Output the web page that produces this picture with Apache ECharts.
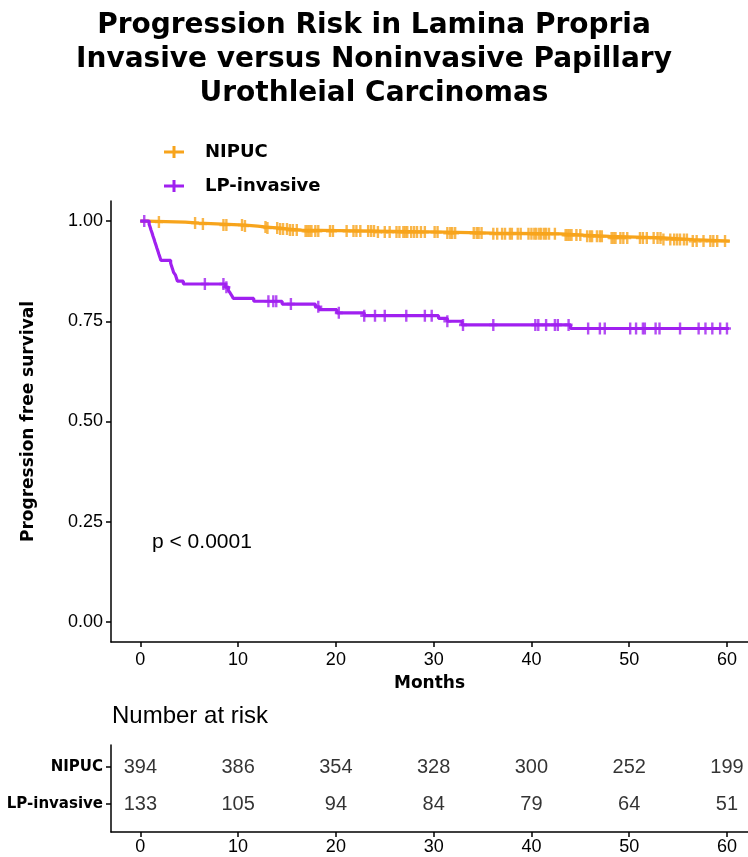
<!DOCTYPE html>
<html>
<head>
<meta charset="utf-8">
<script src="https://cdn.jsdelivr.net/npm/echarts@6/dist/echarts.min.js"></script>
<style>
html,body{margin:0;padding:0;background:#fff;}
#chart{width:748px;height:857px;}
</style>
</head>
<body>
<div id="chart"></div>
<script>
// ---------- data ----------
const groups = ['NIPUC', 'LP-invasive'];
const groupColors = ['#F7A41C', '#A020F0'];
const monthTicks = [0, 10, 20, 30, 40, 50, 60];
const survTicks = [0, 0.25, 0.5, 0.75, 1];
const titleLines = ['Progression Risk in Lamina Propria', 'Invasive versus Noninvasive Papillary', 'Urothleial Carcinomas'];
const pValueText = 'p < 0.0001';

// Kaplan-Meier step points: event times and survival after each event
const nipucTimes = [0, 0.6, 4.6, 6.0, 8.4, 10.7, 12.0, 12.9, 14.3, 15.2, 16.5, 24.0, 31.2, 36.0, 43.0, 45.3, 48.0, 53.5, 56.5, 60.3];
const nipucSurv  = [1, 0.9975, 0.995, 0.9925, 0.990, 0.9875, 0.985, 0.9825, 0.980, 0.9775, 0.975, 0.9725, 0.970, 0.968, 0.965, 0.962, 0.958, 0.954, 0.950, 0.950];
const nipucCensor = [1.9, 5.6, 6.4, 8.5, 8.8, 10.4, 10.7, 12.8, 13.0, 14.0, 14.3, 14.6, 15.0, 15.3, 15.6, 16.0,
  16.9, 17.1, 17.3, 17.5, 17.9, 18.2, 19.4, 19.7, 21.1, 21.8, 22.1, 22.5, 23.3, 23.6, 23.9, 24.3, 25.0, 25.5,
  26.2, 26.5, 26.9, 27.1, 27.3, 27.7, 28.0, 28.3, 28.7, 29.1, 30.1, 30.4, 31.4, 31.7, 31.9, 32.2, 34.1, 34.4, 34.6, 34.9,
  36.1, 36.5, 37.0, 37.3, 37.8, 38.0, 38.6, 38.9, 39.7, 40.0, 40.3, 40.5, 40.8, 41.0, 41.3, 41.5, 41.8, 42.4,
  43.5, 43.7, 43.9, 44.1, 44.6, 45.0, 45.7, 46.0, 46.2, 46.7, 47.0, 47.2, 48.2, 48.4, 48.6, 49.1, 49.4, 49.8,
  51.1, 51.4, 51.8, 52.5, 52.9, 53.2, 53.5, 54.2, 54.6, 54.9, 55.2, 55.6, 55.9, 56.5, 56.9, 57.6, 58.3, 58.6, 59.0, 59.8];

const lpTimes = [0, 0.9, 1.0, 1.1, 1.2, 1.3, 1.4, 1.5, 1.6, 1.7, 1.8, 1.9, 2.0, 2.1, 3.1, 3.2, 3.3, 3.4, 3.6, 3.7, 3.8, 4.4,
  8.7, 9.0, 9.2, 9.4, 9.5, 11.6, 14.5, 17.9, 18.3, 20.1, 22.9, 30.5, 31.4, 32.9, 44.0, 60.2];
const lpSurv  = [1, 0.992, 0.985, 0.977, 0.970, 0.962, 0.955, 0.947, 0.940, 0.932, 0.925, 0.917, 0.910, 0.902, 0.895, 0.887, 0.880, 0.872, 0.865, 0.857, 0.850, 0.843,
  0.835, 0.827, 0.820, 0.812, 0.807, 0.800, 0.793, 0.786, 0.779, 0.771, 0.764, 0.757, 0.750, 0.741, 0.732, 0.732];
const lpCensor = [0.4, 6.6, 8.5, 8.8, 13.1, 13.6, 13.9, 15.4, 18.2, 20.3, 22.9, 24.0, 25.0, 27.2, 29.1, 29.8, 31.4, 33.0,
  36.1, 40.4, 40.7, 41.5, 42.4, 42.7, 43.8, 45.8, 47.0, 47.5, 50.1, 50.7, 51.4, 51.6, 52.7, 53.1, 55.2, 57.1, 57.8, 58.5, 59.3, 60.0];

// Number at risk table
const riskTimes = [0, 10, 20, 30, 40, 50, 60];
const riskNIPUC = [394, 386, 354, 328, 300, 252, 199];
const riskLP = [133, 105, 94, 84, 79, 64, 51];
const riskTitle = 'Number at risk';

// ---------- build ----------
function stepData(times, surv) { return times.map((t, i) => [t, surv[i]]); }
function survAt(times, surv, t) {
  let s = surv[0];
  for (let i = 0; i < times.length; i++) { if (times[i] <= t) s = surv[i]; }
  return s;
}
function censorData(c, times, surv) { return c.map(t => [t, survAt(times, surv, t)]); }

const plusCensor = 'path://M0,4.3H2.8V0H5.2V4.3H8V6.7H5.2V11H2.8V6.7H0Z';
const plusLegend = 'path://M0,4.5H8.5V0H11.5V4.5H20V7.5H11.5V12H8.5V7.5H0Z';

const rowY = {'NIPUC': 2, 'LP-invasive': 1};
const rowLabel = {1: 'LP-invasive', 2: 'NIPUC'};

const baseFont = 'Liberation Sans, Arial, sans-serif';
const boldFont = 'DejaVu Sans, Verdana, sans-serif';

const chart = echarts.init(document.getElementById('chart'), null, {renderer: 'canvas'});

const axisLineStyle = {show: true, onZero: false, lineStyle: {color: '#000', width: 1.5}};
const xMin = -3, xMax = 62.15;

const option = {
  animation: false,
  backgroundColor: '#fff',
  title: {
    text: titleLines.join('\n'),
    left: 'center',
    top: 4,
    textStyle: {fontFamily: boldFont, fontWeight: 'bold', fontSize: 28, lineHeight: 34, color: '#000'}
  },
  legend: {
    orient: 'vertical',
    left: 159,
    top: 138,
    itemWidth: 20,
    itemHeight: 12,
    itemGap: 16,
    data: [
      {name: groups[0], icon: plusLegend},
      {name: groups[1], icon: plusLegend}
    ],
    textStyle: {fontFamily: boldFont, fontWeight: 'bold', fontSize: 18, color: '#000', padding: [0, 0, 0, 16]}
  },
  grid: [
    {left: 111, right: 0, top: 201, bottom: 215},
    {left: 111, right: 0, top: 745, bottom: 25}
  ],
  xAxis: [
    {
      gridIndex: 0, type: 'value', min: xMin, max: xMax,
      name: 'Months', nameLocation: 'middle', nameGap: 33,
      nameTextStyle: {fontFamily: boldFont, fontWeight: 'bold', fontSize: 17, color: '#000'},
      axisLine: axisLineStyle,
      axisTick: {show: true, length: 5, lineStyle: {color: '#000', width: 1.5}, customValues: monthTicks},
      axisLabel: {customValues: monthTicks, fontFamily: baseFont, fontSize: 18, color: '#000', margin: 9},
      splitLine: {show: false}
    },
    {
      gridIndex: 1, type: 'value', min: xMin, max: xMax,
      axisLine: axisLineStyle,
      axisTick: {show: true, length: 5, lineStyle: {color: '#000', width: 1.5}, customValues: riskTimes},
      axisLabel: {customValues: riskTimes, fontFamily: baseFont, fontSize: 18, color: '#000', margin: 6},
      splitLine: {show: false}
    }
  ],
  yAxis: [
    {
      gridIndex: 0, type: 'value', min: -0.05, max: 1.05,
      name: 'Progression free survival', nameLocation: 'middle', nameGap: 74,
      nameTextStyle: {fontFamily: boldFont, fontWeight: 'bold', fontSize: 17, color: '#000'},
      axisLine: axisLineStyle,
      axisTick: {show: true, length: 5, lineStyle: {color: '#000', width: 1.5}, customValues: survTicks},
      axisLabel: {customValues: survTicks, formatter: v => v.toFixed(2), fontFamily: baseFont, fontSize: 18, color: '#000', margin: 8},
      splitLine: {show: false}
    },
    {
      gridIndex: 1, type: 'value', min: 0.25, max: 2.6,
      axisLine: axisLineStyle,
      axisTick: {show: true, length: 5, lineStyle: {color: '#000', width: 1.5}, customValues: [1, 2]},
      axisLabel: {customValues: [1, 2], formatter: v => rowLabel[v], fontFamily: boldFont, fontWeight: 'bold', fontSize: 15, color: '#000', margin: 8},
      splitLine: {show: false}
    }
  ],
  graphic: [
    {type: 'text', left: 152, top: 532, style: {text: pValueText, font: '21px ' + baseFont, fill: '#000'}},
    {type: 'text', left: 112, top: 704, style: {text: riskTitle, font: '24px ' + baseFont, fill: '#000'}}
  ],
  series: [
    {
      name: groups[0], type: 'line', step: 'end', xAxisIndex: 0, yAxisIndex: 0,
      data: stepData(nipucTimes, nipucSurv), showSymbol: false,
      lineStyle: {color: groupColors[0], width: 3.2}, itemStyle: {color: groupColors[0]}, z: 3
    },
    {
      name: groups[0], type: 'scatter', xAxisIndex: 0, yAxisIndex: 0,
      data: censorData(nipucCensor, nipucTimes, nipucSurv), symbol: plusCensor, symbolSize: [8, 12],
      itemStyle: {color: groupColors[0]}, z: 3
    },
    {
      name: groups[1], type: 'line', step: 'end', xAxisIndex: 0, yAxisIndex: 0,
      data: stepData(lpTimes, lpSurv), showSymbol: false,
      lineStyle: {color: groupColors[1], width: 3.2}, itemStyle: {color: groupColors[1]}, z: 4
    },
    {
      name: groups[1], type: 'scatter', xAxisIndex: 0, yAxisIndex: 0,
      data: censorData(lpCensor, lpTimes, lpSurv), symbol: plusCensor, symbolSize: [8, 12],
      itemStyle: {color: groupColors[1]}, z: 4
    },
    {
      type: 'scatter', xAxisIndex: 1, yAxisIndex: 1, symbolSize: 1,
      itemStyle: {color: 'transparent'},
      data: riskTimes.map((t, i) => [t, rowY['NIPUC'], riskNIPUC[i]]),
      label: {show: true, position: 'inside', formatter: p => String(p.value[2]), fontFamily: baseFont, fontSize: 20, color: '#000'}
    },
    {
      type: 'scatter', xAxisIndex: 1, yAxisIndex: 1, symbolSize: 1,
      itemStyle: {color: 'transparent'},
      data: riskTimes.map((t, i) => [t, rowY['LP-invasive'], riskLP[i]]),
      label: {show: true, position: 'inside', formatter: p => String(p.value[2]), fontFamily: baseFont, fontSize: 20, color: '#000'}
    }
  ]
};
chart.setOption(option);
</script>
</body>
</html>
